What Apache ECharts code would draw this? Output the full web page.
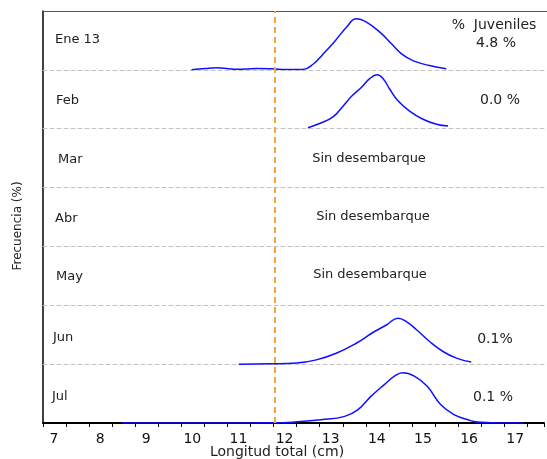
<!DOCTYPE html>
<html>
<head>
<meta charset="utf-8">
<script src="https://cdn.jsdelivr.net/npm/echarts@6/dist/echarts.min.js"></script>
<style>
html,body{margin:0;padding:0;background:#fff;}
#chart{width:547px;height:459px;}
</style>
</head>
<body>
<div id="chart"></div>
<script>
// ---- data ----
const months = ['Ene 13', 'Feb', 'Mar', 'Abr', 'May', 'Jun', 'Jul'];
const juvenilePct = ['4.8 %', '0.0 %', '', '', '', '0.1%', '0.1 %'];
const noLanding = 'Sin desembarque';
const juvenileLimit = 12;
const xTickLabels = [7, 8, 9, 10, 11, 12, 13, 14, 15, 16, 17];

const eneLen = [10.20, 10.5, 10.74, 11.0, 11.17, 11.6, 11.92, 12.25, 12.6, 12.82, 13.03, 13.29, 13.54, 13.75, 13.97, 14.26, 14.51, 14.72, 14.97, 15.33, 15.69];
const eneFreq = [0, 0.9, 1.4, 0.8, 0.4, 0.9, 0.7, 0.2, 0.2, 3.8, 10.5, 19.5, 29.0, 34.7, 32.4, 25.6, 17.7, 11.0, 6.3, 2.9, 0.7];

const febLen = [12.71, 12.96, 13.25, 13.47, 13.65, 13.86, 14.04, 14.20, 14.33, 14.47, 14.65, 14.90, 15.19, 15.48, 15.73];
const febFreq = [0.7, 3.5, 8.0, 15.5, 22.0, 28.0, 34.0, 36.6, 34.0, 27.0, 19.0, 12.0, 6.4, 3.0, 1.8];

const junLen = [11.22, 11.89, 12.46, 12.89, 13.32, 13.75, 14.11, 14.40, 14.65, 14.83, 15.05, 15.33, 15.62, 15.91, 16.23];
const junFreq = [0, 0.2, 0.7, 2.9, 7.4, 14.2, 21.5, 26.6, 31.2, 28.9, 23.4, 15.4, 8.6, 4.1, 1.4];

const julLen = [8.72, 10.0, 11.0, 12.0, 12.46, 13.03, 13.54, 13.83, 14.11, 14.40, 14.62, 14.80, 15.05, 15.33, 15.62, 15.91, 16.27, 16.41, 17.0, 17.42];
const julFreq = [0, 0, 0, 0.1, 0.7, 2.2, 4.5, 9.1, 18.1, 26.1, 31.8, 34.1, 31.8, 24.9, 12.5, 5.7, 1.6, 0.7, 0, 0];

const panelSeries = [
  [eneLen, eneFreq],
  [febLen, febFreq],
  null, null, null,
  [junLen, junFreq],
  [julLen, julFreq]
];

// ---- layout ----
const FONT = '"DejaVu Sans", sans-serif';
const TOP = 11, BOTTOM_Y = 423, LEFT = 43;
const XMIN = 7, XMAX = 17.862;
const YMAX = 40;
const n = months.length;
const ph = (BOTTOM_Y - TOP) / n;

const grid = [], xAxis = [], yAxis = [], series = [], graphic = [];
for (let i = 0; i < n; i++) {
  grid.push({ left: LEFT, right: 0, top: TOP + i * ph, height: ph });
  const last = i === n - 1;
  xAxis.push({
    type: 'value', gridIndex: i, min: XMIN, max: XMAX, interval: 0.5,
    axisLine: { show: true, onZero: false, lineStyle: last ? { color: '#000', width: 2 } : { color: '#c4c4c4', width: 1, type: [4, 3] } },
    axisTick: { show: last, length: 4, lineStyle: { color: '#000', width: 1 } },
    axisLabel: last ? {
      show: true, margin: 9, color: '#111', fontSize: 14, fontFamily: FONT,
      padding: [0, 0, 0, 22],
      formatter: v => (xTickLabels.indexOf(v) >= 0 ? String(v) : '')
    } : { show: false },
    splitLine: { show: false }
  });
  yAxis.push({
    type: 'value', gridIndex: i, min: 0, max: YMAX, show: false
  });
  const s = panelSeries[i];
  if (s) {
    series.push({
      type: 'line', xAxisIndex: i, yAxisIndex: i,
      data: s[0].map((x, k) => [x, s[1][k]]),
      smooth: 0.45, showSymbol: false, symbol: 'none', z: 4,
      lineStyle: { color: '#1010ff', width: 1.5 }
    });
  }
}
// top border
xAxis.push({
  type: 'value', gridIndex: 0, position: 'top', min: XMIN, max: XMAX,
  axisLine: { show: true, onZero: false, lineStyle: { color: '#555', width: 1.2 } },
  axisTick: { show: false }, axisLabel: { show: false }, splitLine: { show: false }
});
// overlay grid: continuous left axis + juvenile limit line
grid.push({ left: LEFT, right: 0, top: TOP, bottom: 459 - BOTTOM_Y });
xAxis.push({ type: 'value', gridIndex: n, min: XMIN, max: XMAX, show: false });
yAxis.push({
  type: 'value', gridIndex: n, min: 0, max: 1,
  axisLine: { show: true, onZero: false, lineStyle: { color: '#000', width: 1.5 } },
  axisTick: { show: false }, axisLabel: { show: false }, splitLine: { show: false }
});
series.push({
  type: 'line', xAxisIndex: n + 1, yAxisIndex: n,
  data: [[juvenileLimit, 0], [juvenileLimit, 1]],
  showSymbol: false, symbol: 'none', z: 5,
  lineStyle: { color: '#f5a53c', width: 2, type: [6, 4] }
});

// texts
const monthPos = [[55, 40], [56, 101], [58, 160], [55, 219], [56, 277], [53, 338], [52, 397]];
months.forEach((m, i) => {
  graphic.push({ type: 'text', x: monthPos[i][0], y: monthPos[i][1],
    style: { text: m, font: '13px ' + FONT, fill: '#222', align: 'left', verticalAlign: 'middle' } });
});
const noLandPos = [[369, 159], [373, 217], [370, 275]];
[2, 3, 4].forEach((pi, k) => {
  graphic.push({ type: 'text', x: noLandPos[k][0], y: noLandPos[k][1],
    style: { text: noLanding, font: '13px ' + FONT, fill: '#222', align: 'center', verticalAlign: 'middle' } });
});
graphic.push({ type: 'text', x: 494, y: 25,
  style: { text: '%  Juveniles', font: '14px ' + FONT, fill: '#222', align: 'center', verticalAlign: 'middle' } });
const pctPos = [[496, 43], [500, 100], null, null, null, [495, 339], [493, 397]];
juvenilePct.forEach((t, i) => {
  if (!t) return;
  graphic.push({ type: 'text', x: pctPos[i][0], y: pctPos[i][1],
    style: { text: t, font: '14px ' + FONT, fill: '#222', align: 'center', verticalAlign: 'middle' } });
});
graphic.push({ type: 'text', x: 18, y: 226, rotation: Math.PI / 2,
  style: { text: 'Frecuencia (%)', font: '12px ' + FONT, fill: '#222', align: 'center', verticalAlign: 'middle' } });
graphic.push({ type: 'text', x: 277, y: 452,
  style: { text: 'Longitud total (cm)', font: '14px ' + FONT, fill: '#222', align: 'center', verticalAlign: 'middle' } });

const chart = echarts.init(document.getElementById('chart'), null, { renderer: 'canvas' });
chart.setOption({
  animation: false,
  backgroundColor: '#fff',
  grid, xAxis, yAxis, series, graphic
});
</script>
</body>
</html>
